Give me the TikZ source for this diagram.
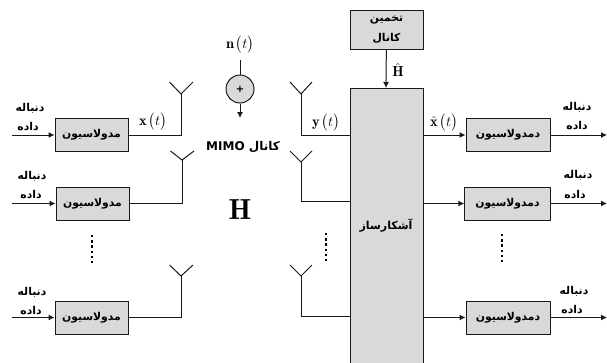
\documentclass[tikz,border=0pt]{standalone}
\usepackage{fontspec}
\usepackage{amsmath}
\TeXXeTstate=1
\newfontfamily\arabicfont[Script=Arabic]{DejaVu Sans}
\newcommand{\fa}[1]{\arabicfont\bfseries\beginR #1\endR}
\newcommand{\mathlabel}[1]{$\mathbf{#1}\mkern2mu\bigl(t\bigr)$}
\usetikzlibrary{arrows.meta}
\definecolor{boxgray}{RGB}{217,217,217}
\definecolor{linegray}{RGB}{25,25,25}
\tikzset{
  x=1pt,y=-1pt,
  wire/.style={draw=linegray,line width=1pt},
  arr/.style={wire,-{Latex[length=6pt,width=6pt]}},
  block/.style={draw=linegray,line width=1pt,fill=boxgray,minimum width=73pt,minimum height=33pt,inner sep=0pt,font=\fontsize{10.8}{12}\selectfont,align=center},
  dblock/.style={block,minimum width=84pt},
  lbl/.style={inner sep=0pt,font=\fontsize{10.8}{12}\selectfont},
  mth/.style={inner sep=0pt,font=\fontsize{14.5}{16}\selectfont},
  dotcol/.style={draw=black,line width=2.4pt,dash pattern=on 2.4pt off 2.8pt},
}
\begin{document}
\begin{tikzpicture}
\useasboundingbox (0,0) rectangle (607,362);
% left blocks
\node[block] (m1) at (91.5,135) {\fa{مدولاسیون}};
\node[block] (m2) at (92.5,203.5) {\fa{مدولاسیون}};
\node[block] (m3) at (91.5,317.5) {\fa{مدولاسیون}};
% inputs
\coordinate (i1) at (12,135); \coordinate (i2) at (12,203.5); \coordinate (i3) at (12,317.5);
\draw[arr] (i1) -- (m1);
\draw[arr] (i2) -- (m2);
\draw[arr] (i3) -- (m3);
\node[lbl] (d1a) at (30,108) {\fa{دنباله}};
\node[lbl] (d1b) at (28,127) {\fa{داده}};
\node[lbl] (d2a) at (32,176) {\fa{دنباله}};
\node[lbl] (d2b) at (31,195) {\fa{داده}};
\node[lbl] (d3a) at (32,292) {\fa{دنباله}};
\node[lbl] (d3b) at (31,311) {\fa{داده}};
% tx antennas
\foreach \n/\x/\t/\a in {1/181/94/82,2/182/160/151,3/181/276/265}{
  \coordinate (ta\n) at (\x,\t);
  \coordinate (tl\n) at (\x-11.5,\a);
  \coordinate (tr\n) at (\x+12,\a);
  \draw[wire] (tl\n) -- (ta\n) -- (tr\n);
}
\draw[wire] (m1.east) -| (ta1);
\draw[wire] (m2.east) -| (ta2);
\draw[wire] (m3.east) -| (ta3);
\node[mth] (xt) at (153,122) {\mathlabel{x}};
% noise
\node[circle,draw=linegray,line width=1pt,fill=boxgray,minimum size=28pt,inner sep=0pt,font=\arabicfont\bfseries\fontsize{10}{10}\selectfont] (sum) at (240,89) {+};
\node[mth] (nt) at (240,45) {\mathlabel{n}};
\coordinate (ntop) at (240,60);
\coordinate (nbot) at (240,118);
\draw[wire] (ntop) -- (sum);
\draw[arr] (sum) -- (nbot);
\node[inner sep=0pt,font=\fontsize{12}{13}\selectfont] (mimo) at (243,147) {\arabicfont\bfseries\beginR کانال \beginL MIMO\endL\endR};
\node[inner sep=0pt,font=\bfseries\fontsize{29}{29}\selectfont] (H) at (240,210) {$\mathbf{H}$};
% detector
\path[draw=linegray,line width=1pt,fill=boxgray] (350,363) -- (350,88) -- (423,88) -- (423,363);
\coordinate (dettop) at (386,88);
\node[lbl,font=\fontsize{11}{12}\selectfont] (det) at (386,226) {\fa{آشکارساز}};
\node[block,minimum height=39pt] (est) at (386.5,29.5) {};
\node[lbl] (est1) at (386.5,20) {\fa{تخمین}};
\node[lbl] (est2) at (386.5,38) {\fa{کانال}};
\draw[arr] (est) -- (dettop);
\node[mth] (hh) at (398,70) {$\hat{\mathbf{H}}$};
% rx antennas
\foreach \n/\t/\a/\y in {1/94/82/135,2/162/151/201,3/276/265/316}{
  \coordinate (ra\n) at (301,\t);
  \coordinate (rl\n) at (290,\a);
  \coordinate (rr\n) at (312,\a);
  \coordinate (re\n) at (350,\y);
  \draw[wire] (rl\n) -- (ra\n) -- (rr\n);
  \draw[wire] (ra\n) |- (re\n);
}
\node[mth] (yt) at (326,123) {\mathlabel{y}};
% demod
\node[dblock] (dm1) at (508,135) {\fa{دمدولاسیون}};
\node[dblock,minimum width=85.5pt] (dm2) at (507.5,203.5) {\fa{دمدولاسیون}};
\node[dblock] (dm3) at (508,317.5) {\fa{دمدولاسیون}};
\node[mth] (xh) at (444,123) {$\hat{\mathbf{x}}\mkern2mu\bigl(t\bigr)$};
\foreach \n/\y in {1/135,2/203.5,3/317.5}{
  \coordinate (do\n) at (423,\y);
  \coordinate (out\n) at (607,\y);
  \draw[arr] (do\n) -- (dm\n);
  \draw[arr] (dm\n) -- (out\n);
}
\node[lbl] (o1a) at (577,107) {\fa{دنباله}};
\node[lbl] (o1b) at (577,126) {\fa{داده}};
\node[lbl] (o2a) at (578,175) {\fa{دنباله}};
\node[lbl] (o2b) at (575,195) {\fa{داده}};
\node[lbl] (o3a) at (574,291) {\fa{دنباله}};
\node[lbl] (o3b) at (572,310) {\fa{داده}};
% dots
\coordinate (a1) at (92,235); \coordinate (a2) at (92,265);
\coordinate (b1) at (326,233); \coordinate (b2) at (326,263);
\coordinate (c1) at (502,234); \coordinate (c2) at (502,264);
\draw[dotcol] (a1) -- (a2);
\draw[dotcol] (b1) -- (b2);
\draw[dotcol] (c1) -- (c2);
\end{tikzpicture}
\end{document}
